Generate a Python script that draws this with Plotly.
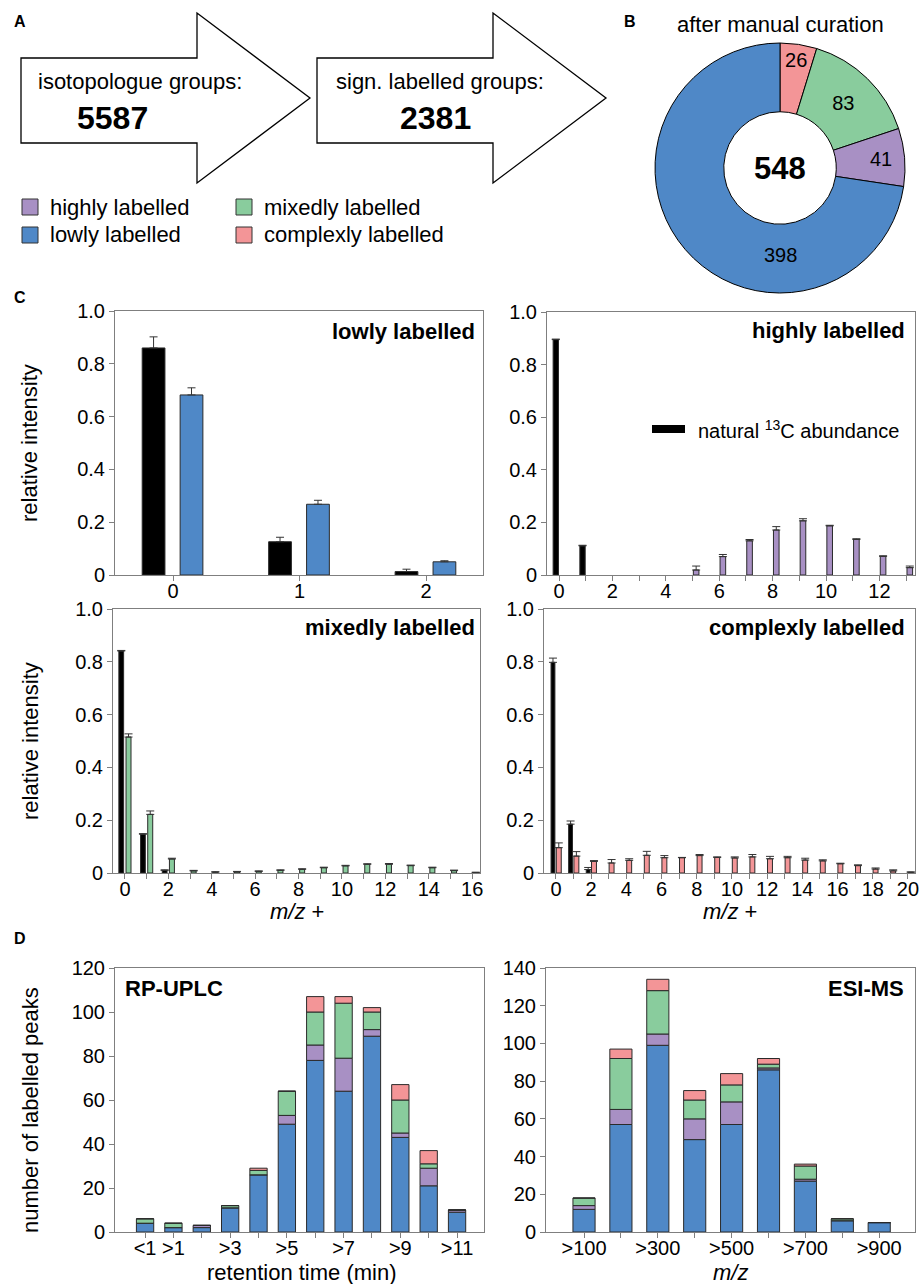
import numpy as np
import plotly.graph_objects as go

W, H = 921, 1284
FONT = "Liberation Sans, Arial, Helvetica, sans-serif"

# ---------------- colours ----------------
C_HIGH = "#A890C4"
C_LOW = "#4F88C7"
C_MIX = "#89CC9D"
C_CPLX = "#F39597"
C_NAT = "#000000"

# ---------------- panel A ----------------
step_labels = ["isotopologue groups:", "sign. labelled groups:"]
step_counts = ["5587", "2381"]

# ---------------- panel B ----------------
donut_labels = ["complexly labelled", "mixedly labelled", "highly labelled", "lowly labelled"]
donut_values = [26, 83, 41, 398]
donut_colors = [C_CPLX, C_MIX, C_HIGH, C_LOW]
donut_total = "548"

# ---------------- panel C ----------------
low_mz = [0, 1, 2]
low_nat = [0.86, 0.126, 0.013]
low_nat_err = [0.042, 0.017, 0.009]
low_obs = [0.682, 0.268, 0.050]
low_obs_err = [0.027, 0.015, 0.004]

high_nat_mz = [0, 1]
high_nat = [0.895, 0.111]
high_nat_err = [0.002, 0.002]
high_mz = [5, 6, 7, 8, 9, 10, 11, 12, 13]
high_obs = [0.019, 0.070, 0.130, 0.171, 0.206, 0.187, 0.135, 0.071, 0.028]
high_obs_err = [0.015, 0.008, 0.005, 0.013, 0.008, 0.002, 0.003, 0.002, 0.006]

mix_nat_mz = [0, 1, 2]
mix_nat = [0.841, 0.147, 0.010]
mix_nat_err = [0.002, 0.002, 0.002]
mix_mz = list(range(0, 17))
mix_obs = [0.515, 0.222, 0.053, 0.008, 0.003, 0.004, 0.006, 0.010, 0.014,
           0.020, 0.027, 0.033, 0.033, 0.028, 0.020, 0.009, 0.002]
mix_obs_err = [0.012, 0.013, 0.003, 0.002, 0.002, 0.002, 0.002, 0.002, 0.002,
               0.002, 0.002, 0.002, 0.003, 0.002, 0.002, 0.002, 0.001]

cplx_nat_mz = [0, 1, 2]
cplx_nat = [0.798, 0.185, 0.013]
cplx_nat_err = [0.016, 0.012, 0.008]
cplx_mz = list(range(0, 21))
cplx_obs = [0.096, 0.064, 0.044, 0.038, 0.048, 0.067, 0.058, 0.058, 0.066, 0.059,
            0.057, 0.061, 0.054, 0.058, 0.049, 0.046, 0.035, 0.028, 0.015, 0.008, 0.003]
cplx_obs_err = [0.018, 0.017, 0.003, 0.013, 0.006, 0.015, 0.008, 0.001, 0.004, 0.002,
                0.004, 0.009, 0.009, 0.005, 0.007, 0.004, 0.002, 0.003, 0.004, 0.004, 0.001]

y_ticks_c = [0, 0.2, 0.4, 0.6, 0.8, 1.0]
y_ticktext_c = ["0", "0.2", "0.4", "0.6", "0.8", "1.0"]

# ---------------- panel D ----------------
rt_cats = ["<1", ">1", ">2", ">3", ">4", ">5", ">6", ">7", ">8", ">9", ">10", ">11"]
rt_ticktext = ["&lt;1", ">1", "", ">3", "", ">5", "", ">7", "", ">9", "", ">11"]
rt_low = [4, 2, 2, 11, 26, 49, 78, 64, 89, 43, 21, 9]
rt_high = [0, 0, 1, 0, 0, 4, 7, 15, 3, 2, 8, 1]
rt_mix = [2, 2, 0, 1, 2, 11, 15, 25, 8, 15, 2, 0]
rt_cplx = [0, 0, 0, 0, 1, 0, 7, 3, 2, 7, 6, 0]

mz_cats = [">100", ">200", ">300", ">400", ">500", ">600", ">700", ">800", ">900"]
mz_ticktext = [">100", "", ">300", "", ">500", "", ">700", "", ">900"]
mz_low = [12, 57, 99, 49, 57, 86, 27, 6, 5]
mz_high = [2, 8, 6, 11, 12, 1, 1, 0, 0]
mz_mix = [4, 27, 23, 10, 9, 2, 7, 1, 0]
mz_cplx = [0, 5, 6, 5, 6, 3, 1, 0, 0]


def px(x):
    return x / W


def py(y):
    return 1 - y / H


fig = go.Figure()

TICK_SIZE = 20
AX = dict(showline=True, linecolor="#7f7f7f", linewidth=1, mirror=True,
          ticks="outside", ticklen=5, tickcolor="#7f7f7f", showgrid=False,
          zeroline=False, automargin=False,
          tickfont=dict(size=TICK_SIZE, color="black", family=FONT))

# axis domains (pixel boxes)
boxes = {
    1: (115, 483, 311, 575),
    2: (547, 915, 312, 575),
    3: (113, 480, 609, 873),
    4: (544, 915, 609, 873),
    5: (115, 484, 968, 1232),
    6: (546, 915, 968, 1232),
}
xranges = {1: [-0.46, 2.45], 2: [-0.45, 13.33], 3: [-0.55, 16.36], 4: [-0.68, 20.4],
           5: [-1.06, 11.95], 6: [-1.03, 8.97]}

layout_axes = {}
for i, (x0, x1, y0, y1) in boxes.items():
    xn = "xaxis" if i == 1 else f"xaxis{i}"
    yn = "yaxis" if i == 1 else f"yaxis{i}"
    ya = "y" if i == 1 else f"y{i}"
    xa = "x" if i == 1 else f"x{i}"
    layout_axes[xn] = dict(AX, domain=[px(x0), px(x1)], anchor=ya, range=xranges[i],
                           ticklabelstandoff=-7)
    layout_axes[yn] = dict(AX, domain=[py(y1), py(y0)], anchor=xa)

# panel C x axes
layout_axes["xaxis"].update(tickvals=low_mz, ticktext=[str(v) for v in low_mz])
for i, n in [(2, 13), (3, 16), (4, 20)]:
    vals = list(range(0, n + 1))
    layout_axes[f"xaxis{i}"].update(tickvals=vals,
                                    ticktext=[str(v) if v % 2 == 0 else "" for v in vals])
for i in [1, 2, 3, 4]:
    yn = "yaxis" if i == 1 else f"yaxis{i}"
    layout_axes[yn].update(range=[0, 1.0], tickvals=y_ticks_c, ticktext=y_ticktext_c)

# panel D axes
layout_axes["xaxis5"].update(type="category", tickvals=rt_cats, ticktext=rt_ticktext)
layout_axes["xaxis6"].update(type="category", tickvals=mz_cats, ticktext=mz_ticktext)
layout_axes["yaxis5"].update(range=[0, 120], dtick=20)
layout_axes["yaxis6"].update(range=[0, 140], dtick=20)

BAR_LINE = dict(color="#2a2a2a", width=1)


def err(arr):
    return dict(type="data", array=arr, arrayminus=[0] * len(arr), symmetric=False,
                color="#333333", thickness=1, width=4)


def cbar(x, y, e, color, xa, ya, offset, width):
    fig.add_trace(go.Bar(x=x, y=y, error_y=err(e), marker=dict(color=color, line=BAR_LINE),
                         offset=offset, width=width, xaxis=xa, yaxis=ya, showlegend=False))


cbar(low_mz, low_nat, low_nat_err, C_NAT, "x", "y", -0.245, 0.18)
cbar(low_mz, low_obs, low_obs_err, C_LOW, "x", "y", 0.055, 0.18)

cbar(high_nat_mz, high_nat, high_nat_err, C_NAT, "x2", "y2", -0.22, 0.2)
cbar(high_mz, high_obs, high_obs_err, C_HIGH, "x2", "y2", 0.03, 0.21)

cbar(mix_nat_mz, mix_nat, mix_nat_err, C_NAT, "x3", "y3", -0.28, 0.22)
cbar(mix_mz, mix_obs, mix_obs_err, C_MIX, "x3", "y3", 0.05, 0.23)

cbar(cplx_nat_mz, cplx_nat, cplx_nat_err, C_NAT, "x4", "y4", -0.28, 0.22)
cbar(cplx_mz, cplx_obs, cplx_obs_err, C_CPLX, "x4", "y4", 0.02, 0.28)


def stack(cats, series, colors, xa, ya, width):
    base = np.zeros(len(cats))
    for vals, col in zip(series, colors):
        v = np.array(vals, dtype=float)
        fig.add_trace(go.Bar(x=cats, y=v, base=base.copy(), width=width,
                             marker=dict(color=col, line=BAR_LINE),
                             xaxis=xa, yaxis=ya, showlegend=False))
        base = base + v


stack(rt_cats, [rt_low, rt_high, rt_mix, rt_cplx], [C_LOW, C_HIGH, C_MIX, C_CPLX], "x5", "y5", 0.61)
stack(mz_cats, [mz_low, mz_high, mz_mix, mz_cplx], [C_LOW, C_HIGH, C_MIX, C_CPLX], "x6", "y6", 0.6)

# donut
fig.add_trace(go.Pie(values=donut_values, labels=donut_labels, sort=False, direction="clockwise",
                     rotation=0, hole=0.45, marker=dict(colors=donut_colors, line=dict(color="black", width=1)),
                     texttemplate=["%{value}", "%{value}", "%{value}", ""],
                     textposition="inside", insidetextorientation="horizontal",
                     textfont=dict(size=20, color="black", family=FONT),
                     domain=dict(x=[px(655), px(905)], y=[py(293), py(43)]), showlegend=False))

shapes = []
annotations = []


def ann(text, x, y, size=18, bold=False, xanchor="center", yanchor="middle", angle=0):
    t = f"<b>{text}</b>" if bold else text
    annotations.append(dict(text=t, x=px(x), y=py(y), xref="paper", yref="paper", showarrow=False,
                            xanchor=xanchor, yanchor=yanchor, textangle=angle,
                            font=dict(size=size, color="black", family=FONT)))


def path(points):
    s = "M " + " L ".join(f"{px(a):.5f},{py(b):.5f}" for a, b in points) + " Z"
    return s


# arrows (panel A)
for dx in (0, 296):
    pts = [(21 + dx, 58), (197 + dx, 58), (197 + dx, 13), (310 + dx, 98),
           (197 + dx, 183), (197 + dx, 143), (21 + dx, 143)]
    shapes.append(dict(type="path", path=path(pts), xref="paper", yref="paper",
                       line=dict(color="black", width=1.3), fillcolor="white", layer="below"))

ann(step_labels[0], 140, 82, size=22)
ann(step_counts[0], 112, 118, size=32, bold=True)
ann(step_labels[1], 440, 82, size=22)
ann(step_counts[1], 435, 118, size=32, bold=True)

# panel letters
ann("A", 12, 22, size=16, bold=True, xanchor="left")
ann("B", 622, 22, size=16, bold=True, xanchor="left")
ann("C", 12, 297, size=16, bold=True, xanchor="left")
ann("D", 12, 938, size=16, bold=True, xanchor="left")

# donut title / centre / large-slice label
ann("after manual curation", 780, 25, size=22)
ann(donut_total, 780, 168, size=31, bold=True)
ann(str(donut_values[3]), 780, 255, size=20)

# category legend
legend_items = [("highly labelled", C_HIGH, 22, 207), ("mixedly labelled", C_MIX, 236, 207),
                ("lowly labelled", C_LOW, 22, 235), ("complexly labelled", C_CPLX, 236, 235)]
for name, col, lx, ly in legend_items:
    shapes.append(dict(type="rect", xref="paper", yref="paper", x0=px(lx), x1=px(lx + 16),
                       y0=py(ly + 8), y1=py(ly - 8), fillcolor=col,
                       line=dict(color="#333333", width=1)))
    ann(name, lx + 26, ly, size=22, xanchor="left")

# natural abundance key in highly panel
shapes.append(dict(type="line", xref="paper", yref="paper", x0=px(652), x1=px(685),
                   y0=py(429), y1=py(429), line=dict(color="black", width=8)))
ann("natural <sup>13</sup>C abundance", 696, 429, size=20, xanchor="left")

# panel titles
ann("lowly labelled", 477, 332, size=22, bold=True, xanchor="right")
ann("highly labelled", 907, 331, size=22, bold=True, xanchor="right")
ann("mixedly labelled", 477, 628, size=22, bold=True, xanchor="right")
ann("complexly labelled", 907, 628, size=22, bold=True, xanchor="right")
ann("RP-UPLC", 123, 988, size=22, bold=True, xanchor="left")
ann("ESI-MS", 906, 988, size=22, bold=True, xanchor="right")

# axis titles
ann("relative intensity", 30, 443, size=22, angle=-90)
ann("relative intensity", 30, 741, size=22, angle=-90)
ann("<i>m/z</i> +", 297, 911, size=22)
ann("<i>m/z</i> +", 730, 911, size=22)
ann("number of labelled peaks", 30, 1110, size=22, angle=-90)
ann("retention time (min)", 302, 1272, size=22)
ann("<i>m/z</i>", 730, 1272, size=22)

fig.update_layout(width=W, height=H, margin=dict(l=0, r=0, t=0, b=0, autoexpand=False),
                  paper_bgcolor="white", plot_bgcolor="white", barmode="overlay",
                  font=dict(family=FONT, color="black"),
                  uniformtext=dict(minsize=19, mode="show"),
                  shapes=shapes, annotations=annotations, **layout_axes)

fig.write_html("out.html", config={"displayModeBar": False},
               post_script="document.body.style.margin='0';document.body.style.overflow='hidden';")
